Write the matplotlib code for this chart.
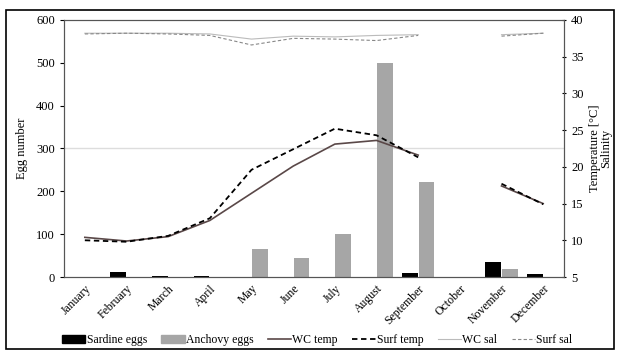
import matplotlib
matplotlib.use("Agg")
import matplotlib.pyplot as plt
import numpy as np
from matplotlib.patches import Rectangle
from matplotlib.lines import Line2D
from matplotlib.patches import Patch

plt.rcParams['font.family'] = ['Liberation Serif', 'DejaVu Serif']

months = ["January", "February", "March", "April", "May", "June", "July",
          "August", "September", "October", "November", "December"]
sardine = [0, 12, 2, 3, 0, 0, 0, 0, 10, 0, 35, 8]
anchovy = [0, 0, 0, 0, 65, 45, 100, 500, 222, 0, 18, 0]
nan = np.nan
wc_temp = [10.4, 9.9, 10.5, 12.7, 16.4, 20.1, 23.1, 23.6, 21.6, nan, 17.4, 15.0]
surf_temp = [10.0, 9.8, 10.6, 13.0, 19.6, 22.4, 25.2, 24.3, 21.3, nan, 17.7, 14.9]
wc_sal = [38.2, 38.2, 38.2, 38.1, 37.4, 37.8, 37.7, 37.9, 38.0, nan, 38.0, 38.2]
surf_sal = [38.1, 38.2, 38.1, 37.9, 36.6, 37.5, 37.4, 37.2, 37.9, nan, 37.8, 38.2]

fig = plt.figure(figsize=(6.22, 3.56), dpi=100)
fig.patches.append(Rectangle((6/622, 1-349/356), 608/622, 339/356, transform=fig.transFigure,
                             fill=False, edgecolor='black', linewidth=1.2))
ax = fig.add_axes([64/622, 1-277/356, 500/622, 257/356])
x = np.arange(len(months))
w = 0.37
ax.axhline(300, color='#dddddd', linewidth=1, zorder=0)
ax.bar(x - 0.2, sardine, width=w, color='black', zorder=2)
ax.bar(x + 0.2, anchovy, width=w, color='#a6a6a6', zorder=2)
ax.set_xlim(-0.5, 11.5)
ax.set_ylim(0, 600)
ax.set_yticks(range(0, 601, 100))
ax.set_xticks(x)
ax.set_xticklabels(months, rotation=45, ha='right', rotation_mode='anchor', fontsize=8.5)
ax.tick_params(axis='x', length=0, pad=4)
ax.tick_params(axis='y', labelsize=9, length=3, direction='out')
ax.set_ylabel("Egg number", fontsize=9, labelpad=6)
for s in ax.spines.values():
    s.set_color('#555555')

ax2 = ax.twinx()
ax2.plot(x, wc_sal, color='#bbbbbb', linewidth=0.8)
ax2.plot(x, surf_sal, color='#888888', linewidth=0.8, linestyle=(0, (3, 2)))
ax2.plot(x, wc_temp, color='#5a4848', linewidth=1.2)
ax2.plot(x, surf_temp, color='black', linewidth=1.3, linestyle=(0, (3, 2)))
ax2.set_ylim(5, 40)
ax2.set_yticks(range(5, 41, 5))
ax2.tick_params(axis='y', labelsize=9, length=3, direction='inout')
ax2.set_ylabel("Temperature [°C]\nSalinity", fontsize=9, linespacing=0.9)
for s in ax2.spines.values():
    s.set_color('#555555')

handles = [Patch(color='black', label='Sardine eggs'),
           Patch(color='#a6a6a6', label='Anchovy eggs'),
           Line2D([], [], color='#5a4848', linewidth=1.2, label='WC temp'),
           Line2D([], [], color='black', linewidth=1.3, linestyle=(0, (3, 2)), label='Surf temp'),
           Line2D([], [], color='#bbbbbb', linewidth=0.8, label='WC sal'),
           Line2D([], [], color='#888888', linewidth=0.8, linestyle=(0, (3, 2)), label='Surf sal')]
fig.legend(handles=handles, loc='center', bbox_to_anchor=(0.51, 1-340/356), ncol=6,
           frameon=False, fontsize=8.5, handlelength=2.0, handletextpad=0.1, columnspacing=1.2,
           handleheight=0.7)

fig.savefig("out.png", dpi=100)
